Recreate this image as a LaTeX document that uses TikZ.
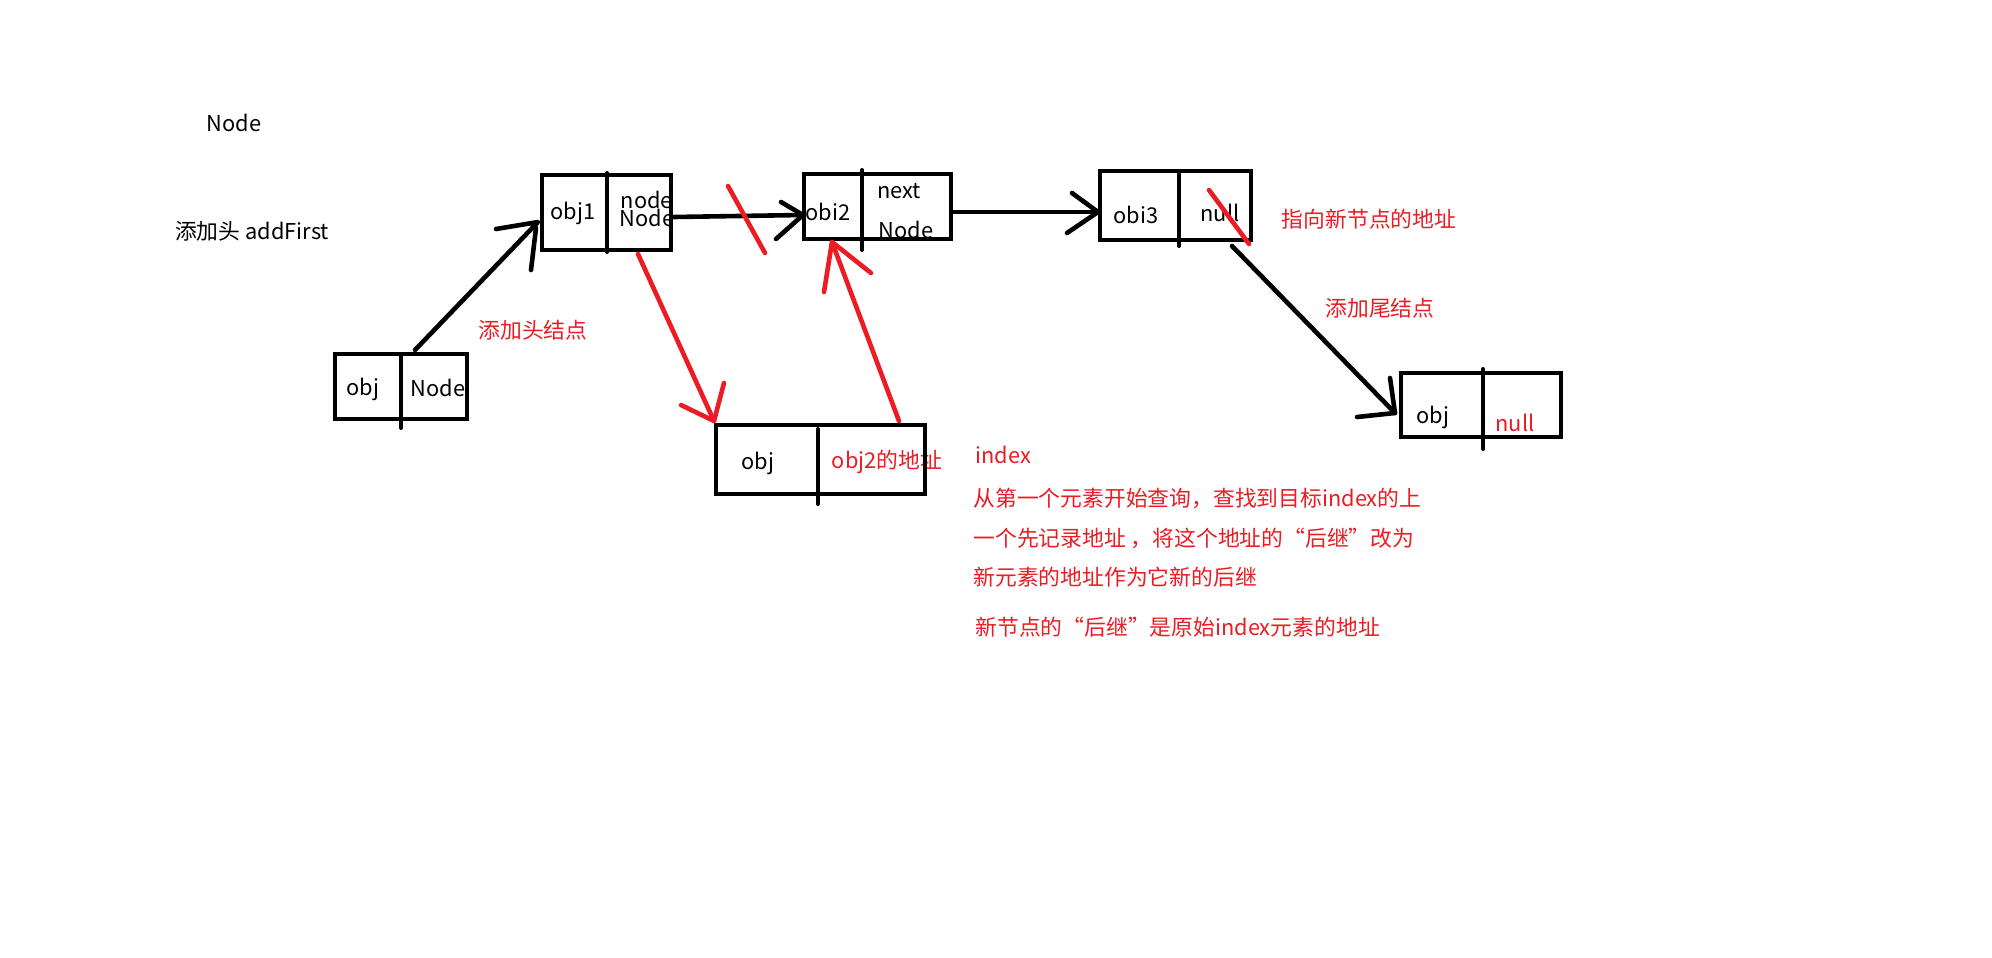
\documentclass[tikz,border=0pt]{standalone}
\usepackage{fontspec}
\setmainfont{Noto Sans CJK SC}
\definecolor{pred}{HTML}{ED1C24}
\begin{document}
\begin{tikzpicture}[x=0.5pt,y=-0.5pt,
  box/.style={draw=black, line width=2pt, rectangle, inner sep=0pt},
  txt/.style={inner sep=0pt, font=\fontsize{10.9pt}{13pt}\selectfont, text=black},
  rtxt/.style={txt, text=pred},
  blk/.style={draw=black, line width=2.3pt, line cap=round, line join=round},
  redl/.style={draw=pred, line width=2.3pt, line cap=round, line join=round},
  divl/.style={draw=black, line width=2pt, line cap=round}]
\useasboundingbox[fill=white] (0,0) rectangle (1992,958);

% free texts
\node[txt] (tNode) at (234,123) {Node};
\node[txt] (tAdd) at (252,231) {添加头 addFirst};
\node[rtxt] (tHead) at (533,330) {添加头结点};
\node[rtxt] (tPoint) at (1369,219) {指向新节点的地址};
\node[rtxt] (tTail) at (1380,308) {添加尾结点};
\node[rtxt, anchor=west] (i0) at (975,455) {index};
\node[rtxt, anchor=west] (i1) at (973,498) {从第一个元素开始查询，查找到目标index的上};
\node[rtxt, anchor=west] (i2) at (973,538) {一个先记录地址 ，将这个地址的“后继”改为};
\node[rtxt, anchor=west] (i3) at (973,577) {新元素的地址作为它新的后继};
\node[rtxt, anchor=west] (i4) at (975,627) {新节点的“后继”是原始index元素的地址};

% texts inside boxes
\node[txt] (o1a) at (573,213) {obj1};
\node[txt] (o1b) at (647,200) {node};
\node[txt] (o1c) at (647,218) {Node};
\node[txt] (o0a) at (363,389) {obj};
\node[txt] (o0b) at (438,388) {Node};
\node[txt] (o2a) at (828,212) {obi2};
\node[txt] (o2b) at (899,191) {next};
\node[txt] (o2c) at (906,230) {Node};
\node[txt] (o3a) at (1136,215) {obi3};
\node[txt] (o3b) at (1220,213) {null};
\node[txt] (ona) at (758,463) {obj};
\node[rtxt] (onb) at (887,462) {obj2的地址};
\node[txt] (o4a) at (1433,417) {obj};
\node[rtxt] (o4b) at (1515,423) {null};

% boxes
\node[box, minimum width=64.5pt, minimum height=37.5pt] (b1) at (606.5,212.5) {};
\node[box, minimum width=66pt, minimum height=32.5pt] (b0) at (401,386.5) {};
\node[box, minimum width=73.5pt, minimum height=32.5pt] (b2) at (877.5,206.5) {};
\node[box, minimum width=75.5pt, minimum height=34.5pt] (b3) at (1175.5,205.5) {};
\node[box, minimum width=104.5pt, minimum height=34.5pt] (bn) at (820.5,459.5) {};
\node[box, minimum width=80pt, minimum height=32pt] (b4) at (1481,405) {};

% dividers
\draw[divl] ([shift={(0.5,0)}]b1.north) -- ([shift={(0.5,0)}]b1.south);
\draw[divl] ([shift={(0,4)}]b0.north) -- ([shift={(0,7)}]b0.south);
\draw[divl] ([shift={(-15.5,-2)}]b2.north) -- ([shift={(-15.5,9)}]b2.south);
\draw[divl] ([shift={(3.5,2)}]b3.north) -- ([shift={(3.5,4)}]b3.south);
\draw[divl] ([shift={(-3,6)}]bn.north) -- ([shift={(-3,8)}]bn.south);
\draw[divl] ([shift={(2,-2)}]b4.north) -- ([shift={(2,10)}]b4.south);

% black connectors
\coordinate (t01) at ([shift={(-2,9.5)}]b1.west);
\draw[blk] ([shift={(14,-2)}]b0.north) -- (t01) -- ++(-42,7);
\draw[blk] (t01) ++(-2,6) -- ++(-5,42);

\coordinate (t12) at ([shift={(1,8.5)}]b2.west);
\draw[blk] ([shift={(1,4.5)}]b1.east) -- (t12);
\draw[blk] ([shift={(-22,-13)}]t12) -- (t12) -- ++(-27,24);

\coordinate (t23) at ([shift={(0,6.5)}]b3.west);
\draw[blk] ([shift={(-1,5.5)}]b2.east) -- (t23);
\draw[blk] ([shift={(-26,-19)}]t23) -- (t23) -- ++(-31,21);

\coordinate (t34) at ([shift={(-4,8)}]b4.west);
\draw[blk] ([shift={(56.5,4)}]b3.south) -- (t34);
\draw[blk] ([shift={(-5,-35)}]t34) -- (t34) -- ++(-38,4);

% red connectors
\coordinate (t1n) at ([shift={(0,-2)}]bn.north west);
\draw[redl] ([shift={(31.5,2)}]b1.south) -- (t1n);
\draw[redl] ([shift={(-33,-16)}]t1n) -- (t1n) -- ++(10,-38);

\coordinate (tn2) at ([shift={(-45.5,1)}]b2.south);
\draw[redl] ([shift={(78.5,-2)}]bn.north) -- (tn2);
\draw[redl] ([shift={(-8,50)}]tn2) -- (tn2) -- ++(39,31);

% red strike marks
\draw[redl] (728,186) -- (765,253);
\draw[redl] (1209,190) -- (1249,244);
\end{tikzpicture}
\end{document}
